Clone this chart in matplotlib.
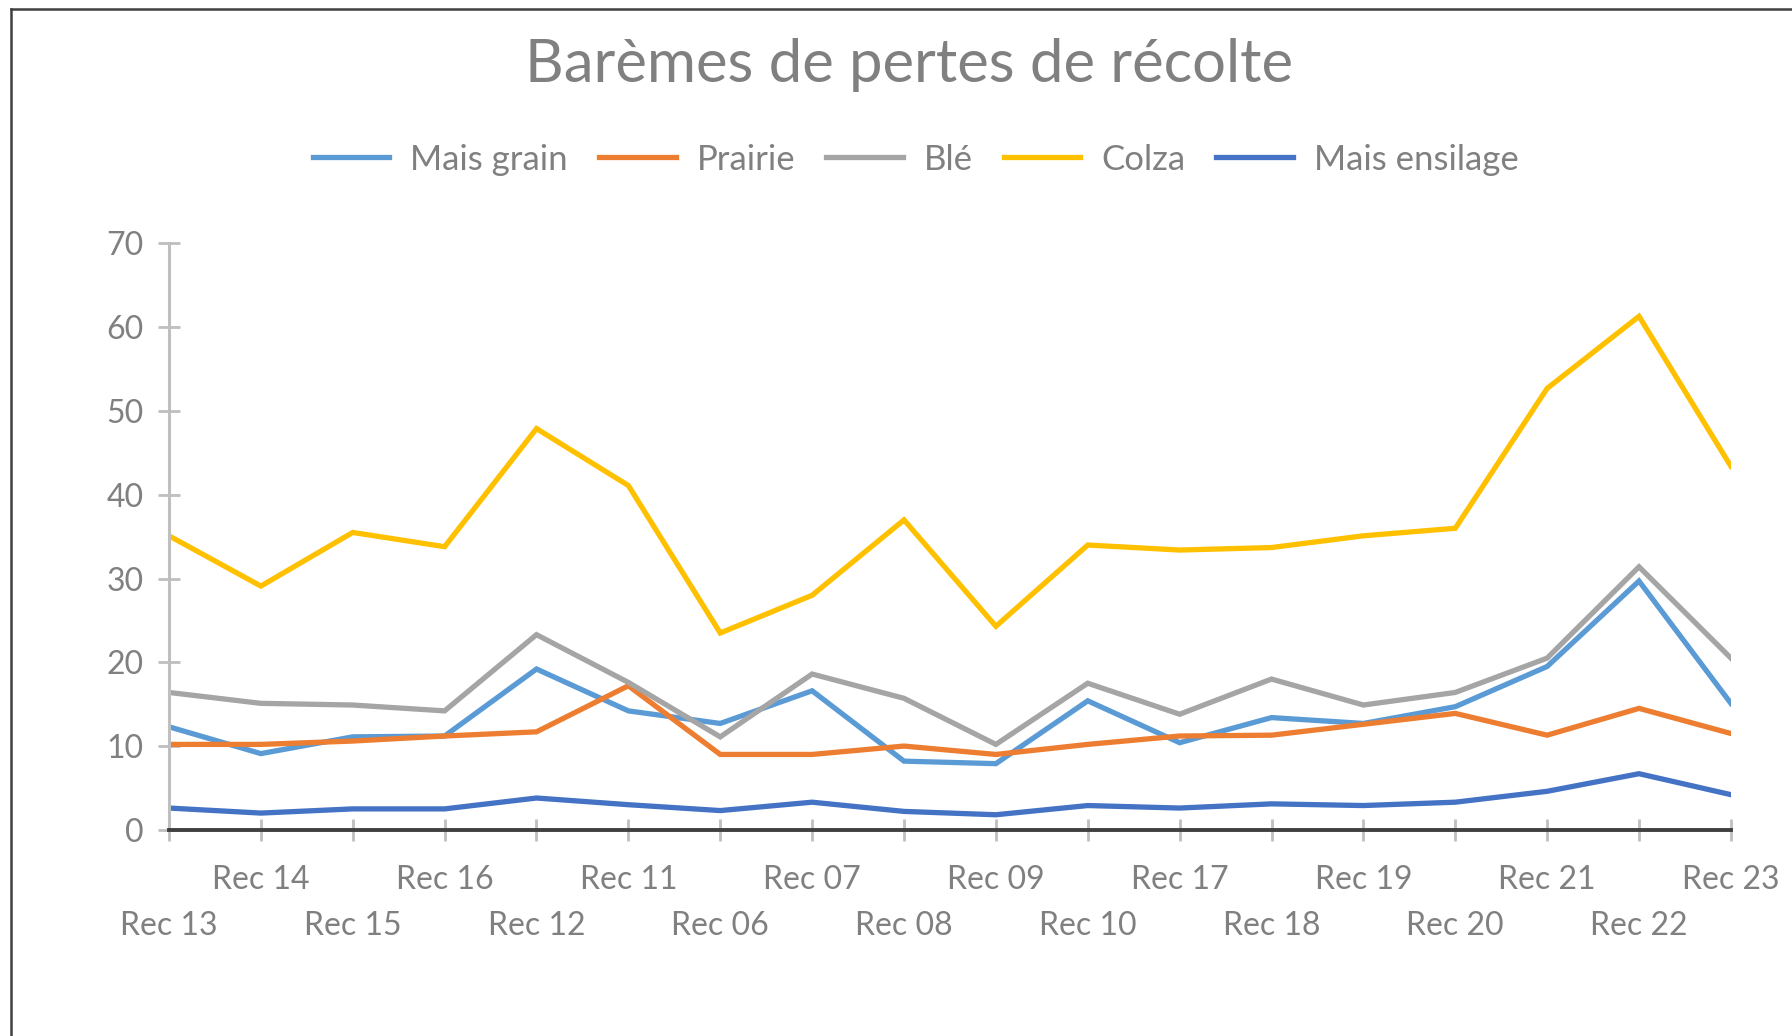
import matplotlib.pyplot as plt
from matplotlib.lines import Line2D

plt.rcParams['font.family'] = ['Lato', 'DejaVu Sans']

recoltes = ["Rec 13", "Rec 14", "Rec 15", "Rec 16", "Rec 12", "Rec 11", "Rec 06", "Rec 07", "Rec 08",
            "Rec 09", "Rec 10", "Rec 17", "Rec 18", "Rec 19", "Rec 20", "Rec 21", "Rec 22", "Rec 23"]

mais_grain = [12.3, 9.1, 11.1, 11.2, 19.2, 14.2, 12.7, 16.6, 8.2, 7.9, 15.4, 10.4, 13.4, 12.7, 14.7, 19.5, 29.7, 15.1]
prairie = [10.2, 10.2, 10.6, 11.2, 11.7, 17.2, 9.0, 9.0, 10.0, 9.0, 10.2, 11.2, 11.3, 12.6, 13.9, 11.3, 14.5, 11.5]
ble = [16.4, 15.1, 14.9, 14.2, 23.3, 17.6, 11.1, 18.6, 15.7, 10.2, 17.5, 13.8, 18.0, 14.9, 16.4, 20.5, 31.4, 20.5]
colza = [35.1, 29.1, 35.5, 33.8, 47.9, 41.1, 23.5, 28.0, 37.0, 24.3, 34.0, 33.4, 33.7, 35.1, 36.0, 52.7, 61.3, 43.4]
mais_ensilage = [2.6, 2.0, 2.5, 2.5, 3.8, 3.0, 2.3, 3.3, 2.2, 1.8, 2.9, 2.6, 3.1, 2.9, 3.3, 4.6, 6.7, 4.2]

series = [("Mais grain", mais_grain, "#5B9BD5"),
          ("Prairie", prairie, "#ED7D31"),
          ("Blé", ble, "#A5A5A5"),
          ("Colza", colza, "#FFC000"),
          ("Mais ensilage", mais_ensilage, "#4472C4")]

txt = "#808080"

fig = plt.figure(figsize=(17.92, 10.36), dpi=100)
ax = fig.add_axes([0.0943, 0.199, 0.8716, 0.566])

x = range(len(recoltes))
for name, vals, col in series:
    ax.plot(x, vals, color=col, lw=3.8, label=name, solid_joinstyle='miter')

ax.set_xlim(0, len(recoltes) - 1)
ax.set_ylim(0, 70)
ax.set_yticks(range(0, 71, 10))
ax.set_xticks(list(x))
# labels alternate on two rows, like Excel does when they don't fit
labels = [("\n" + r) if i % 2 == 0 else r for i, r in enumerate(recoltes)]
ax.set_xticklabels(labels)
for lbl in ax.get_xticklabels():
    lbl.set_linespacing(1.68)

for s in ["top", "right"]:
    ax.spines[s].set_visible(False)
ax.spines["left"].set_color("#BFBFBF")
ax.spines["left"].set_linewidth(2.2)
ax.spines["bottom"].set_color("#404040")
ax.spines["bottom"].set_linewidth(2.8)

ax.tick_params(axis="y", direction="inout", length=16, width=2, color="#BFBFBF",
               labelsize=23, labelcolor=txt, pad=10)
ax.tick_params(axis="x", direction="inout", length=16, width=2, color="#BFBFBF",
               labelsize=23, labelcolor=txt, pad=17)

fig.suptitle("Barèmes de pertes de récolte", x=0.507, y=0.937, va="center", fontsize=43, color=txt)

fig.legend(loc="center", bbox_to_anchor=(0.511, 0.846), ncol=5, frameon=False,
           fontsize=25, labelcolor=txt, handlelength=2.2, handletextpad=0.6, columnspacing=0.9)

# frame of the chart box (left and top edges visible)
fig.add_artist(Line2D([0.0061, 0.0061], [0.0, 0.991], color="#404040", lw=1.8, transform=fig.transFigure))
fig.add_artist(Line2D([0.0061, 1.0], [0.991, 0.991], color="#404040", lw=1.8, transform=fig.transFigure))

fig.savefig("out.png", dpi=100)
